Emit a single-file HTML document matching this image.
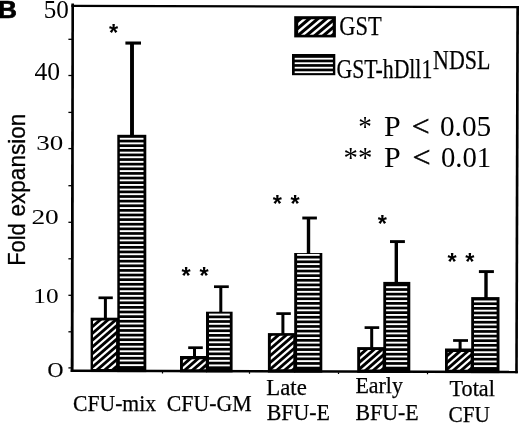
<!DOCTYPE html>
<html><head><meta charset="utf-8"><title>B</title>
<style>
html,body{margin:0;padding:0;background:#fff;}
body{width:520px;height:424px;overflow:hidden;position:relative;}
svg{position:absolute;left:0;top:0;display:block;will-change:transform;}
text{fill:#000;}
.se{font-family:"Liberation Serif",serif;stroke:#000;stroke-width:0.25px;}
.sa{font-family:"Liberation Sans",sans-serif;}
.sn{font-family:"Liberation Serif",serif;}
</style></head><body>
<svg width="520" height="424" viewBox="0 0 520 424">
<defs><filter id="soft" x="0" y="0" width="520" height="424" filterUnits="userSpaceOnUse"><feGaussianBlur stdDeviation="0.4"/></filter></defs>
<rect x="0" y="0" width="520" height="424" fill="#fff"/>
<g filter="url(#soft)">
<polygon points="71.4,3.5 74.0,3.5 73.6,372 70.7,372" fill="#000"/>
<polygon points="71.4,4.7 519,6.0 519,8.3 71.4,6.9" fill="#000"/>
<polygon points="516.3,6.0 519,6.0 517.8,373.2 515.2,373.2" fill="#000"/>
<polygon points="70.7,369.45 517.8,370.70 517.8,373.20 70.7,371.95" fill="#000"/>
<rect x="68.4" y="38.65" width="4" height="1.3" fill="#000"/>
<rect x="68.4" y="74.85" width="4" height="1.3" fill="#000"/>
<rect x="68.4" y="111.75" width="4" height="1.3" fill="#000"/>
<rect x="68.4" y="147.95" width="4" height="1.3" fill="#000"/>
<rect x="68.4" y="185.05" width="4" height="1.3" fill="#000"/>
<rect x="68.4" y="221.65" width="4" height="1.3" fill="#000"/>
<rect x="68.4" y="258.15" width="4" height="1.3" fill="#000"/>
<rect x="68.4" y="294.65" width="4" height="1.3" fill="#000"/>
<rect x="68.4" y="331.15" width="4" height="1.3" fill="#000"/>
<rect x="68.4" y="367.25" width="4" height="1.3" fill="#000"/>
<rect x="161.9" y="371.91" width="1.2" height="1.6" fill="#000"/>
<rect x="248.9" y="372.15" width="1.2" height="1.6" fill="#000"/>
<rect x="337.9" y="372.40" width="1.2" height="1.6" fill="#000"/>
<rect x="426.9" y="372.65" width="1.2" height="1.6" fill="#000"/>
<rect x="90.6" y="317.7" width="27.70" height="54.34" fill="#000"/>
<clipPath id="c0"><rect x="93.0" y="320.4" width="23.10" height="48.61"/></clipPath>
<g clip-path="url(#c0)" stroke="#fff" stroke-width="2.2">
<rect x="92.0" y="319.4" width="25.10" height="50.61" fill="#000" stroke="none"/>
<line x1="29.28" y1="378.14" x2="150.03" y2="273.17"/>
<line x1="32.62" y1="381.98" x2="153.38" y2="277.02"/>
<line x1="35.97" y1="385.83" x2="156.72" y2="280.86"/>
<line x1="39.32" y1="389.68" x2="160.07" y2="284.71"/>
<line x1="42.66" y1="393.53" x2="163.41" y2="288.56"/>
<line x1="46.01" y1="397.38" x2="166.76" y2="292.41"/>
<line x1="49.35" y1="401.23" x2="170.11" y2="296.26"/>
<line x1="52.70" y1="405.08" x2="173.45" y2="300.11"/>
<line x1="56.04" y1="408.93" x2="176.80" y2="303.96"/>
<line x1="59.39" y1="412.78" x2="180.14" y2="307.81"/>
<line x1="62.74" y1="416.63" x2="183.49" y2="311.66"/>
</g>
<rect x="117.3" y="134.8" width="29.00" height="237.32" fill="#000"/>
<rect x="119.8" y="137.80" width="23.70" height="1.9" fill="#fff"/>
<rect x="119.8" y="142.42" width="23.70" height="1.9" fill="#fff"/>
<rect x="119.8" y="147.04" width="23.70" height="1.9" fill="#fff"/>
<rect x="119.8" y="151.66" width="23.70" height="1.9" fill="#fff"/>
<rect x="119.8" y="156.28" width="23.70" height="1.9" fill="#fff"/>
<rect x="119.8" y="160.90" width="23.70" height="1.9" fill="#fff"/>
<rect x="119.8" y="165.52" width="23.70" height="1.9" fill="#fff"/>
<rect x="119.8" y="170.14" width="23.70" height="1.9" fill="#fff"/>
<rect x="119.8" y="174.76" width="23.70" height="1.9" fill="#fff"/>
<rect x="119.8" y="179.38" width="23.70" height="1.9" fill="#fff"/>
<rect x="119.8" y="184.00" width="23.70" height="1.9" fill="#fff"/>
<rect x="119.8" y="188.62" width="23.70" height="1.9" fill="#fff"/>
<rect x="119.8" y="193.24" width="23.70" height="1.9" fill="#fff"/>
<rect x="119.8" y="197.86" width="23.70" height="1.9" fill="#fff"/>
<rect x="119.8" y="202.48" width="23.70" height="1.9" fill="#fff"/>
<rect x="119.8" y="207.10" width="23.70" height="1.9" fill="#fff"/>
<rect x="119.8" y="211.72" width="23.70" height="1.9" fill="#fff"/>
<rect x="119.8" y="216.34" width="23.70" height="1.9" fill="#fff"/>
<rect x="119.8" y="220.96" width="23.70" height="1.9" fill="#fff"/>
<rect x="119.8" y="225.58" width="23.70" height="1.9" fill="#fff"/>
<rect x="119.8" y="230.20" width="23.70" height="1.9" fill="#fff"/>
<rect x="119.8" y="234.82" width="23.70" height="1.9" fill="#fff"/>
<rect x="119.8" y="239.44" width="23.70" height="1.9" fill="#fff"/>
<rect x="119.8" y="244.06" width="23.70" height="1.9" fill="#fff"/>
<rect x="119.8" y="248.68" width="23.70" height="1.9" fill="#fff"/>
<rect x="119.8" y="253.30" width="23.70" height="1.9" fill="#fff"/>
<rect x="119.8" y="257.92" width="23.70" height="1.9" fill="#fff"/>
<rect x="119.8" y="262.54" width="23.70" height="1.9" fill="#fff"/>
<rect x="119.8" y="267.16" width="23.70" height="1.9" fill="#fff"/>
<rect x="119.8" y="271.78" width="23.70" height="1.9" fill="#fff"/>
<rect x="119.8" y="276.40" width="23.70" height="1.9" fill="#fff"/>
<rect x="119.8" y="281.02" width="23.70" height="1.9" fill="#fff"/>
<rect x="119.8" y="285.64" width="23.70" height="1.9" fill="#fff"/>
<rect x="119.8" y="290.26" width="23.70" height="1.9" fill="#fff"/>
<rect x="119.8" y="294.88" width="23.70" height="1.9" fill="#fff"/>
<rect x="119.8" y="299.50" width="23.70" height="1.9" fill="#fff"/>
<rect x="119.8" y="304.12" width="23.70" height="1.9" fill="#fff"/>
<rect x="119.8" y="308.74" width="23.70" height="1.9" fill="#fff"/>
<rect x="119.8" y="313.36" width="23.70" height="1.9" fill="#fff"/>
<rect x="119.8" y="317.98" width="23.70" height="1.9" fill="#fff"/>
<rect x="119.8" y="322.60" width="23.70" height="1.9" fill="#fff"/>
<rect x="119.8" y="327.22" width="23.70" height="1.9" fill="#fff"/>
<rect x="119.8" y="331.84" width="23.70" height="1.9" fill="#fff"/>
<rect x="119.8" y="336.46" width="23.70" height="1.9" fill="#fff"/>
<rect x="119.8" y="341.08" width="23.70" height="1.9" fill="#fff"/>
<rect x="119.8" y="345.70" width="23.70" height="1.9" fill="#fff"/>
<rect x="119.8" y="350.32" width="23.70" height="1.9" fill="#fff"/>
<rect x="119.8" y="354.94" width="23.70" height="1.9" fill="#fff"/>
<rect x="119.8" y="359.56" width="23.70" height="1.9" fill="#fff"/>
<rect x="119.8" y="364.18" width="23.70" height="1.9" fill="#fff"/>
<rect x="180.0" y="356.0" width="27.00" height="16.29" fill="#000"/>
<clipPath id="c1"><rect x="182.9" y="359.2" width="22.90" height="9.99"/></clipPath>
<g clip-path="url(#c1)" stroke="#fff" stroke-width="2.2">
<rect x="181.9" y="358.2" width="24.90" height="11.99" fill="#000" stroke="none"/>
<line x1="124.38" y1="412.54" x2="245.13" y2="307.57"/>
<line x1="127.72" y1="416.38" x2="248.48" y2="311.42"/>
<line x1="131.07" y1="420.23" x2="251.82" y2="315.26"/>
<line x1="134.42" y1="424.08" x2="255.17" y2="319.11"/>
<line x1="137.76" y1="427.93" x2="258.51" y2="322.96"/>
</g>
<rect x="206.0" y="311.7" width="26.60" height="60.66" fill="#000"/>
<rect x="209.0" y="313.63" width="20.80" height="1.9" fill="#fff"/>
<rect x="209.0" y="318.25" width="20.80" height="1.9" fill="#fff"/>
<rect x="209.0" y="322.87" width="20.80" height="1.9" fill="#fff"/>
<rect x="209.0" y="327.49" width="20.80" height="1.9" fill="#fff"/>
<rect x="209.0" y="332.11" width="20.80" height="1.9" fill="#fff"/>
<rect x="209.0" y="336.73" width="20.80" height="1.9" fill="#fff"/>
<rect x="209.0" y="341.35" width="20.80" height="1.9" fill="#fff"/>
<rect x="209.0" y="345.97" width="20.80" height="1.9" fill="#fff"/>
<rect x="209.0" y="350.59" width="20.80" height="1.9" fill="#fff"/>
<rect x="209.0" y="355.21" width="20.80" height="1.9" fill="#fff"/>
<rect x="209.0" y="359.83" width="20.80" height="1.9" fill="#fff"/>
<rect x="209.0" y="364.45" width="20.80" height="1.9" fill="#fff"/>
<rect x="267.9" y="333.1" width="27.30" height="39.44" fill="#000"/>
<clipPath id="c2"><rect x="270.8" y="335.8" width="22.50" height="33.56"/></clipPath>
<g clip-path="url(#c2)" stroke="#fff" stroke-width="2.2">
<rect x="269.8" y="334.8" width="24.50" height="35.56" fill="#000" stroke="none"/>
<line x1="207.08" y1="393.74" x2="327.83" y2="288.77"/>
<line x1="210.42" y1="397.58" x2="331.18" y2="292.62"/>
<line x1="213.77" y1="401.43" x2="334.52" y2="296.46"/>
<line x1="217.12" y1="405.28" x2="337.87" y2="300.31"/>
<line x1="220.46" y1="409.13" x2="341.21" y2="304.16"/>
<line x1="223.81" y1="412.98" x2="344.56" y2="308.01"/>
<line x1="227.15" y1="416.83" x2="347.91" y2="311.86"/>
<line x1="230.50" y1="420.68" x2="351.25" y2="315.71"/>
</g>
<rect x="294.2" y="253.0" width="28.10" height="119.61" fill="#000"/>
<rect x="297.1" y="253.92" width="22.50" height="1.9" fill="#fff"/>
<rect x="297.1" y="258.54" width="22.50" height="1.9" fill="#fff"/>
<rect x="297.1" y="263.16" width="22.50" height="1.9" fill="#fff"/>
<rect x="297.1" y="267.78" width="22.50" height="1.9" fill="#fff"/>
<rect x="297.1" y="272.40" width="22.50" height="1.9" fill="#fff"/>
<rect x="297.1" y="277.02" width="22.50" height="1.9" fill="#fff"/>
<rect x="297.1" y="281.64" width="22.50" height="1.9" fill="#fff"/>
<rect x="297.1" y="286.26" width="22.50" height="1.9" fill="#fff"/>
<rect x="297.1" y="290.88" width="22.50" height="1.9" fill="#fff"/>
<rect x="297.1" y="295.50" width="22.50" height="1.9" fill="#fff"/>
<rect x="297.1" y="300.12" width="22.50" height="1.9" fill="#fff"/>
<rect x="297.1" y="304.74" width="22.50" height="1.9" fill="#fff"/>
<rect x="297.1" y="309.36" width="22.50" height="1.9" fill="#fff"/>
<rect x="297.1" y="313.98" width="22.50" height="1.9" fill="#fff"/>
<rect x="297.1" y="318.60" width="22.50" height="1.9" fill="#fff"/>
<rect x="297.1" y="323.22" width="22.50" height="1.9" fill="#fff"/>
<rect x="297.1" y="327.84" width="22.50" height="1.9" fill="#fff"/>
<rect x="297.1" y="332.46" width="22.50" height="1.9" fill="#fff"/>
<rect x="297.1" y="337.08" width="22.50" height="1.9" fill="#fff"/>
<rect x="297.1" y="341.70" width="22.50" height="1.9" fill="#fff"/>
<rect x="297.1" y="346.32" width="22.50" height="1.9" fill="#fff"/>
<rect x="297.1" y="350.94" width="22.50" height="1.9" fill="#fff"/>
<rect x="297.1" y="355.56" width="22.50" height="1.9" fill="#fff"/>
<rect x="297.1" y="360.18" width="22.50" height="1.9" fill="#fff"/>
<rect x="297.1" y="364.80" width="22.50" height="1.9" fill="#fff"/>
<rect x="357.2" y="347.1" width="27.10" height="25.69" fill="#000"/>
<clipPath id="c3"><rect x="360.1" y="350.1" width="22.50" height="19.45"/></clipPath>
<g clip-path="url(#c3)" stroke="#fff" stroke-width="2.2">
<rect x="359.1" y="349.1" width="24.50" height="21.45" fill="#000" stroke="none"/>
<line x1="296.38" y1="406.94" x2="417.13" y2="301.97"/>
<line x1="299.72" y1="410.78" x2="420.48" y2="305.82"/>
<line x1="303.07" y1="414.63" x2="423.82" y2="309.66"/>
<line x1="306.42" y1="418.48" x2="427.17" y2="313.51"/>
<line x1="309.76" y1="422.33" x2="430.51" y2="317.36"/>
<line x1="313.11" y1="426.18" x2="433.86" y2="321.21"/>
</g>
<rect x="383.3" y="281.9" width="27.00" height="90.96" fill="#000"/>
<rect x="386.1" y="286.26" width="21.10" height="1.9" fill="#fff"/>
<rect x="386.1" y="290.88" width="21.10" height="1.9" fill="#fff"/>
<rect x="386.1" y="295.50" width="21.10" height="1.9" fill="#fff"/>
<rect x="386.1" y="300.12" width="21.10" height="1.9" fill="#fff"/>
<rect x="386.1" y="304.74" width="21.10" height="1.9" fill="#fff"/>
<rect x="386.1" y="309.36" width="21.10" height="1.9" fill="#fff"/>
<rect x="386.1" y="313.98" width="21.10" height="1.9" fill="#fff"/>
<rect x="386.1" y="318.60" width="21.10" height="1.9" fill="#fff"/>
<rect x="386.1" y="323.22" width="21.10" height="1.9" fill="#fff"/>
<rect x="386.1" y="327.84" width="21.10" height="1.9" fill="#fff"/>
<rect x="386.1" y="332.46" width="21.10" height="1.9" fill="#fff"/>
<rect x="386.1" y="337.08" width="21.10" height="1.9" fill="#fff"/>
<rect x="386.1" y="341.70" width="21.10" height="1.9" fill="#fff"/>
<rect x="386.1" y="346.32" width="21.10" height="1.9" fill="#fff"/>
<rect x="386.1" y="350.94" width="21.10" height="1.9" fill="#fff"/>
<rect x="386.1" y="355.56" width="21.10" height="1.9" fill="#fff"/>
<rect x="386.1" y="360.18" width="21.10" height="1.9" fill="#fff"/>
<rect x="386.1" y="364.80" width="21.10" height="1.9" fill="#fff"/>
<rect x="445.0" y="348.5" width="27.20" height="24.53" fill="#000"/>
<clipPath id="c4"><rect x="447.8" y="352.0" width="22.80" height="17.72"/></clipPath>
<g clip-path="url(#c4)" stroke="#fff" stroke-width="2.2">
<rect x="446.8" y="351.0" width="24.80" height="19.72" fill="#000" stroke="none"/>
<line x1="380.93" y1="409.79" x2="501.68" y2="304.82"/>
<line x1="384.28" y1="413.64" x2="505.03" y2="308.67"/>
<line x1="387.62" y1="417.48" x2="508.38" y2="312.52"/>
<line x1="390.97" y1="421.33" x2="511.72" y2="316.36"/>
<line x1="394.32" y1="425.18" x2="515.07" y2="320.21"/>
<line x1="397.66" y1="429.03" x2="518.41" y2="324.06"/>
<line x1="401.01" y1="432.88" x2="521.76" y2="327.91"/>
</g>
<rect x="471.2" y="297.1" width="28.30" height="76.01" fill="#000"/>
<rect x="474.0" y="300.47" width="22.60" height="1.9" fill="#fff"/>
<rect x="474.0" y="305.09" width="22.60" height="1.9" fill="#fff"/>
<rect x="474.0" y="309.71" width="22.60" height="1.9" fill="#fff"/>
<rect x="474.0" y="314.33" width="22.60" height="1.9" fill="#fff"/>
<rect x="474.0" y="318.95" width="22.60" height="1.9" fill="#fff"/>
<rect x="474.0" y="323.57" width="22.60" height="1.9" fill="#fff"/>
<rect x="474.0" y="328.19" width="22.60" height="1.9" fill="#fff"/>
<rect x="474.0" y="332.81" width="22.60" height="1.9" fill="#fff"/>
<rect x="474.0" y="337.43" width="22.60" height="1.9" fill="#fff"/>
<rect x="474.0" y="342.05" width="22.60" height="1.9" fill="#fff"/>
<rect x="474.0" y="346.67" width="22.60" height="1.9" fill="#fff"/>
<rect x="474.0" y="351.29" width="22.60" height="1.9" fill="#fff"/>
<rect x="474.0" y="355.91" width="22.60" height="1.9" fill="#fff"/>
<rect x="474.0" y="360.53" width="22.60" height="1.9" fill="#fff"/>
<rect x="474.0" y="365.15" width="22.60" height="1.9" fill="#fff"/>
<rect x="98.5" y="296.45" width="14.3" height="2.7" fill="#000"/>
<rect x="103.90" y="297.8" width="3.0" height="20.9" fill="#000"/>
<rect x="125.4" y="41.50" width="15.6" height="3.1" fill="#000"/>
<rect x="130.05" y="43.0" width="3.9" height="92.9" fill="#000"/>
<rect x="188.2" y="346.35" width="14.6" height="2.7" fill="#000"/>
<rect x="193.00" y="347.7" width="3.0" height="9.5" fill="#000"/>
<rect x="214.0" y="285.35" width="14.8" height="2.7" fill="#000"/>
<rect x="219.30" y="286.7" width="3.0" height="26.0" fill="#000"/>
<rect x="276.3" y="312.25" width="14.5" height="2.7" fill="#000"/>
<rect x="281.40" y="313.6" width="3.0" height="20.5" fill="#000"/>
<rect x="302.3" y="216.55" width="14.6" height="2.9" fill="#000"/>
<rect x="306.80" y="218.0" width="3.4" height="36.0" fill="#000"/>
<rect x="364.6" y="326.25" width="14.6" height="2.7" fill="#000"/>
<rect x="370.20" y="327.6" width="3.0" height="20.7" fill="#000"/>
<rect x="390.0" y="240.15" width="14.9" height="2.9" fill="#000"/>
<rect x="394.60" y="241.6" width="3.4" height="41.3" fill="#000"/>
<rect x="453.1" y="339.15" width="14.9" height="2.7" fill="#000"/>
<rect x="458.60" y="340.5" width="3.0" height="9.0" fill="#000"/>
<rect x="478.9" y="270.15" width="15.0" height="2.9" fill="#000"/>
<rect x="484.30" y="271.6" width="3.4" height="26.5" fill="#000"/>
<text class="sa" x="113.6" y="40.7" font-size="23.5" font-weight="bold" text-anchor="middle">*</text>
<text class="sa" x="186.1" y="283.5" font-size="23.5" font-weight="bold" text-anchor="middle">*</text>
<text class="sa" x="204.2" y="283.5" font-size="23.5" font-weight="bold" text-anchor="middle">*</text>
<text class="sa" x="277.4" y="211.9" font-size="23.5" font-weight="bold" text-anchor="middle">*</text>
<text class="sa" x="295.2" y="211.9" font-size="23.5" font-weight="bold" text-anchor="middle">*</text>
<text class="sa" x="382.4" y="231.7" font-size="23.5" font-weight="bold" text-anchor="middle">*</text>
<text class="sa" x="452.2" y="270.4" font-size="23.5" font-weight="bold" text-anchor="middle">*</text>
<text class="sa" x="469.9" y="270.4" font-size="23.5" font-weight="bold" text-anchor="middle">*</text>
<text class="sn" x="43.70" y="17.5" font-size="25.4" textLength="25.10" lengthAdjust="spacingAndGlyphs">50</text>
<text class="sn" x="34.50" y="79.7" font-size="24.7" textLength="25.60" lengthAdjust="spacingAndGlyphs">40</text>
<text class="sn" x="36.20" y="150.0" font-size="21" textLength="27.00" lengthAdjust="spacingAndGlyphs">30</text>
<text class="sn" x="31.40" y="224.3" font-size="21" textLength="27.40" lengthAdjust="spacingAndGlyphs">20</text>
<text class="sn" x="33.30" y="302.7" font-size="20.5" textLength="25.30" lengthAdjust="spacingAndGlyphs">10</text>
<text class="se" x="47.60" y="377.1" font-size="22" textLength="15.90" lengthAdjust="spacingAndGlyphs">O</text>
<text class="se" x="73.10" y="410.7" font-size="22.3" textLength="82.90" lengthAdjust="spacingAndGlyphs">CFU-mix</text>
<text class="se" x="166.80" y="410.8" font-size="22.3" textLength="84.90" lengthAdjust="spacingAndGlyphs">CFU-GM</text>
<text class="se" x="266.30" y="394.7" font-size="22.3" textLength="40.50" lengthAdjust="spacingAndGlyphs">Late</text>
<text class="se" x="266.70" y="420.3" font-size="22.3" textLength="63.30" lengthAdjust="spacingAndGlyphs">BFU-E</text>
<text class="se" x="355.40" y="393.3" font-size="22.3" textLength="47.50" lengthAdjust="spacingAndGlyphs">Early</text>
<text class="se" x="355.40" y="419.7" font-size="22.3" textLength="63.30" lengthAdjust="spacingAndGlyphs">BFU-E</text>
<text class="se" x="449.50" y="396.0" font-size="22.3" textLength="45.40" lengthAdjust="spacingAndGlyphs">Total</text>
<text class="se" x="448.50" y="421.5" font-size="22.3" textLength="41.40" lengthAdjust="spacingAndGlyphs">CFU</text>
<rect x="294.2" y="16.2" width="41.7" height="21.2" fill="#000"/>
<clipPath id="cl"><rect x="298.2" y="19.2" width="34.50" height="15.60"/></clipPath>
<g clip-path="url(#cl)" stroke="#fff" stroke-width="2.4">
<rect x="297.2" y="18.2" width="36.50" height="17.60" fill="#000" stroke="none"/>
<line x1="231.11" y1="73.58" x2="353.68" y2="-29.26"/>
<line x1="234.65" y1="77.80" x2="357.21" y2="-25.05"/>
<line x1="238.18" y1="82.01" x2="360.75" y2="-20.84"/>
<line x1="241.72" y1="86.22" x2="364.28" y2="-16.62"/>
<line x1="245.25" y1="90.44" x2="367.82" y2="-12.41"/>
<line x1="248.79" y1="94.65" x2="371.35" y2="-8.20"/>
<line x1="252.32" y1="98.86" x2="374.89" y2="-3.98"/>
</g>
<rect x="292.0" y="54.0" width="43.3" height="21.2" fill="#000"/>
<rect x="294.7" y="57.80" width="38.2" height="1.8" fill="#fff"/>
<rect x="294.7" y="62.30" width="38.2" height="1.8" fill="#fff"/>
<rect x="294.7" y="66.80" width="38.2" height="1.8" fill="#fff"/>
<rect x="294.7" y="71.30" width="38.2" height="1.8" fill="#fff"/>
<text class="se" x="339.20" y="35.0" font-size="27.5" textLength="42.40" lengthAdjust="spacingAndGlyphs">GST</text>
<text class="se" x="336.45" y="77.5" font-size="27.5" textLength="95.85" lengthAdjust="spacingAndGlyphs">GST-hDll1</text>
<text class="se" x="433.10" y="68.7" font-size="27" textLength="57.30" lengthAdjust="spacingAndGlyphs">NDSL</text>
<text class="sn" x="358.20" y="135.8" font-size="29" textLength="13.60" lengthAdjust="spacingAndGlyphs">*</text>
<text class="sn" x="384.10" y="135.8" font-size="29" textLength="16.70" lengthAdjust="spacingAndGlyphs">P</text>
<text class="sn" stroke="#000" stroke-width="0.5" x="411.70" y="135.8" font-size="29" textLength="17.90" lengthAdjust="spacingAndGlyphs">&lt;</text>
<text class="sn" x="439.90" y="135.8" font-size="29" textLength="51.30" lengthAdjust="spacingAndGlyphs">0.05</text>
<text class="sn" x="343.60" y="167.0" font-size="29" textLength="28.80" lengthAdjust="spacingAndGlyphs">**</text>
<text class="sn" x="384.10" y="167.0" font-size="29" textLength="16.70" lengthAdjust="spacingAndGlyphs">P</text>
<text class="sn" stroke="#000" stroke-width="0.5" x="412.50" y="167.0" font-size="29" textLength="18.10" lengthAdjust="spacingAndGlyphs">&lt;</text>
<text class="sn" x="440.90" y="167.3" font-size="29" textLength="50.30" lengthAdjust="spacingAndGlyphs">0.01</text>
<text class="sa" x="-2.2" y="18.4" font-size="24.5" font-weight="bold" stroke="#000" stroke-width="0.7" textLength="19.2" lengthAdjust="spacingAndGlyphs">B</text>
<text class="sa" transform="translate(24.8,265.8) rotate(-90)" x="0" y="0" font-size="24.5" stroke="#000" stroke-width="0.3" textLength="42.5" lengthAdjust="spacingAndGlyphs">Fold</text>
<text class="sa" transform="translate(24.8,216.6) rotate(-90)" x="0" y="0" font-size="24.5" stroke="#000" stroke-width="0.3" textLength="103.0" lengthAdjust="spacingAndGlyphs">expansion</text>
</g></svg></body></html>
